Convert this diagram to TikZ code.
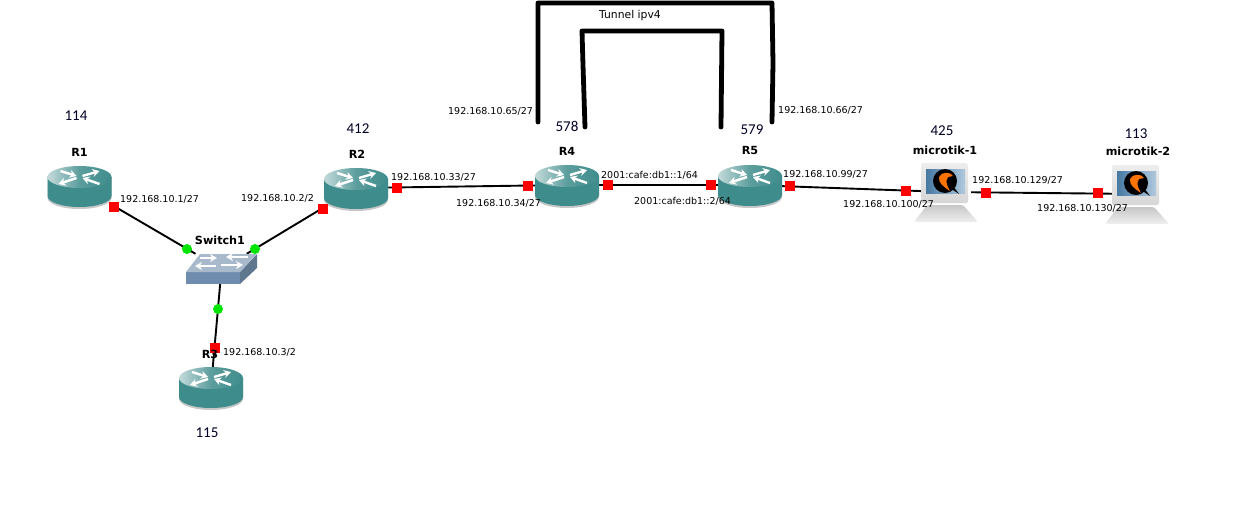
\documentclass[tikz,border=0pt]{standalone}
\usepackage{fontspec}
\usetikzlibrary{arrows.meta}
\setmainfont{DejaVu Sans}
\newfontfamily\numfont{Carlito}
\definecolor{routerteal}{HTML}{3F8C8C}
\definecolor{routerlight}{HTML}{C4DADA}
\definecolor{switchtop}{HTML}{A9B9CC}
\definecolor{switchfront}{HTML}{6F8CAE}
\definecolor{switchside}{HTML}{5F7890}
\definecolor{screenblue}{HTML}{4F86B4}
\tikzset{
  devicedecorate/.style={shape=rectangle,inner sep=0pt,minimum width=62pt,minimum height=40pt},
  hostdecorate/.style={shape=rectangle,inner sep=0pt,minimum width=48pt,minimum height=42pt},
  switchdecorate/.style={shape=rectangle,inner sep=0pt,minimum width=71pt,minimum height=30pt},
  linedecorate/.style={-,line width=1.9pt,black},
  tunneldecorate/.style={line width=4.8pt,black,line cap=round,line join=round},
  ifdecorate/.style={shape=rectangle,fill=red,inner sep=0pt,minimum size=10pt},
  portdecorate/.style={shape=circle,fill=green!90!black,inner sep=0pt,minimum size=10pt},
  iplabel/.style={inner sep=0pt,font=\fontsize{9.5}{10}\selectfont,anchor=west},
  namelabel/.style={inner sep=0pt,font=\fontsize{11.2}{12}\bfseries\selectfont},
  numlabel/.style={inner sep=0pt,text=black!85!blue,font=\numfont\fontsize{15}{16}\selectfont},
  iconarrow/.style={white,line width=2.4pt,-{Stealth[length=7pt,width=8pt]}},
  router/.pic={
    \path[fill=black!22] (-32,-9) -- (-32,12) arc[x radius=32,y radius=11,start angle=180,end angle=0] -- (32,-9) -- cycle;
    \path[fill=routerteal] (-32,-9) -- (-32,10) arc[x radius=32,y radius=11,start angle=180,end angle=0] -- (32,-9) -- cycle;
    \path[left color=routerlight,right color=routerteal,middle color=routerteal!85!white] (0,-9) ellipse[x radius=32,y radius=11];
    \draw[iconarrow] (-19,-15) -- (-3,-10);
    \draw[iconarrow] (3,-10) -- (20,-15);
    \draw[iconarrow] (-3,-8) -- (-21,-2);
    \draw[iconarrow] (20,-2) -- (3,-8);
  },
  hostpc/.pic={
    \path[top color=black!22,bottom color=black!6,rounded corners=1.5pt] (-20,13) -- (16,13) -- (31,30) -- (-33,30) -- cycle;
    \path[top color=black!7,bottom color=black!16,rounded corners=2pt] (-26,-29) rectangle (21,11);
    \path[left color=screenblue!90!black,right color=screenblue!45!white] (-21,-23) rectangle (18,1);
    \path[fill=black] (-2,-11) circle[radius=12];
    \path[fill=black] (3,-4) -- (12,2) -- (6,-6) -- cycle;
    \path[fill=orange!90!red] (-8,-15) .. controls (-5,-21) and (4,-20) .. (6,-16) -- (1,-15) .. controls (-2,-11) and (0,-6) .. (3,-1) .. controls (-3,-5) and (-9,-9) .. (-8,-15) -- cycle;
  },
}
\begin{document}
\begin{tikzpicture}[x=1pt,y=-1pt]
\useasboundingbox (0,0) rectangle (1245,514);
%%% devices
% nodes or vertices
\node (R1) at (79.5,186) [devicedecorate] {};
\node (R2) at (356,188) [devicedecorate] {};
\node (R3) at (211,387) [devicedecorate] {};
\node (R4) at (567,185) [devicedecorate] {};
\node (R5) at (750,185) [devicedecorate] {};
\node (sw) at (221.5,269) [switchdecorate] {};
\node (mt1) at (947,192) [hostdecorate] {};
\node (mt2) at (1138,194) [hostdecorate] {};
% edges or lines
\path
(R1) edge[linedecorate] node {} (sw)
(R2) edge[linedecorate] node {} (sw)
(R3) edge[linedecorate] node {} (sw)
(R2) edge[linedecorate] node {} (R4)
(R4) edge[linedecorate] node {} (R5)
(R5) edge[linedecorate] node {} (mt1)
(mt1) edge[linedecorate] node {} (mt2);
%
%%% icons
\pic at (R1) {router};
\pic at (R2) {router};
\pic at (R3) {router};
\pic at (R4) {router};
\pic at (R5) {router};
\pic at (mt1) {hostpc};
\pic at (mt2) {hostpc};
% switch box
\path[fill=switchfront] (186,272) rectangle (240,284);
\path[fill=switchside] (240,272) -- (257,254) -- (257,268) -- (240,284) -- cycle;
\path[fill=switchtop] (200,254) -- (257,254) -- (240,272) -- (186,272) -- cycle;
\draw[iconarrow,line width=1.8pt] (200,258) -- (217,258);
\draw[iconarrow,line width=1.8pt] (248,257) -- (226,257);
\draw[iconarrow,line width=1.8pt] (216,266) -- (195,266);
\draw[iconarrow,line width=1.8pt] (221,265) -- (243,265);
%
%%% tunnels
\coordinate (outerL) at (538,122);
\coordinate (outerR) at (772,122);
\coordinate (innerL) at (585,127);
\coordinate (innerR) at (721,127);
\draw[tunneldecorate] (outerL) -- (538,63) -- (538,3) -- (772,3) -- (773,63) -- (outerR);
\draw[tunneldecorate] (innerL) -- (583,65) -- (582,31) -- (722,31) -- (innerR);
%
%%% interfaces
\node (p1) at (114,207) [ifdecorate] {};
\node (p2) at (323,209) [ifdecorate] {};
\node (p3) at (215,348) [ifdecorate] {};
\node (p4) at (397,188) [ifdecorate] {};
\node (p5) at (528,186) [ifdecorate] {};
\node (p6) at (608,185) [ifdecorate] {};
\node (p7) at (711,185) [ifdecorate] {};
\node (p8) at (790,186) [ifdecorate] {};
\node (p9) at (906,191) [ifdecorate] {};
\node (p10) at (986,193) [ifdecorate] {};
\node (p11) at (1098,193) [ifdecorate] {};
\node (g1) at (187,249) [portdecorate] {};
\node (g2) at (255,249) [portdecorate] {};
\node (g3) at (218,309) [portdecorate] {};
%
%%% texts
% device names
\node (nR1) at (79.5,152) [namelabel] {R1};
\node (nR2) at (357,154) [namelabel] {R2};
\node (nR3) at (210,354) [namelabel] {R3};
\node (nR4) at (567,151) [namelabel] {R4};
\node (nR5) at (750,150) [namelabel] {R5};
\node (nsw) at (220,240) [namelabel] {Switch1};
\node (nmt1) at (945,150) [namelabel] {microtik-1};
\node (nmt2) at (1138,151) [namelabel] {microtik-2};
% numbers
\node (c114) at (76,116) [numlabel] {114};
\node (c412) at (358,129) [numlabel] {412};
\node (c115) at (207,433) [numlabel] {115};
\node (c578) at (567,126) [numlabel] {578};
\node (c579) at (752,130) [numlabel] {579};
\node (c425) at (942,131) [numlabel] {425};
\node (c113) at (1136,134) [numlabel] {113};
% addresses
\node (a1) at (120,199) [iplabel] {192.168.10.1/27};
\node (a2) at (241,198) [iplabel] {192.168.10.2/2};
\node (a3) at (223,352) [iplabel] {192.168.10.3/2};
\node (a4) at (391,177) [iplabel] {192.168.10.33/27};
\node (a5) at (456,203) [iplabel] {192.168.10.34/27};
\node (a6) at (448,111) [iplabel] {192.168.10.65/27};
\node (a7) at (778,110) [iplabel] {192.168.10.66/27};
\node (a8) at (601,175) [iplabel] {2001:cafe:db1::1/64};
\node (a9) at (634,201) [iplabel] {2001:cafe:db1::2/64};
\node (a10) at (783,174) [iplabel] {192.168.10.99/27};
\node (a11) at (843,204) [iplabel] {192.168.10.100/27};
\node (a12) at (972,180) [iplabel] {192.168.10.129/27};
\node (a13) at (1037,208) [iplabel] {192.168.10.130/27};
\node (tun) at (630,16) [iplabel,anchor=center,font=\fontsize{10.8}{12}\selectfont] {Tunnel ipv4};
\end{tikzpicture}
\end{document}
